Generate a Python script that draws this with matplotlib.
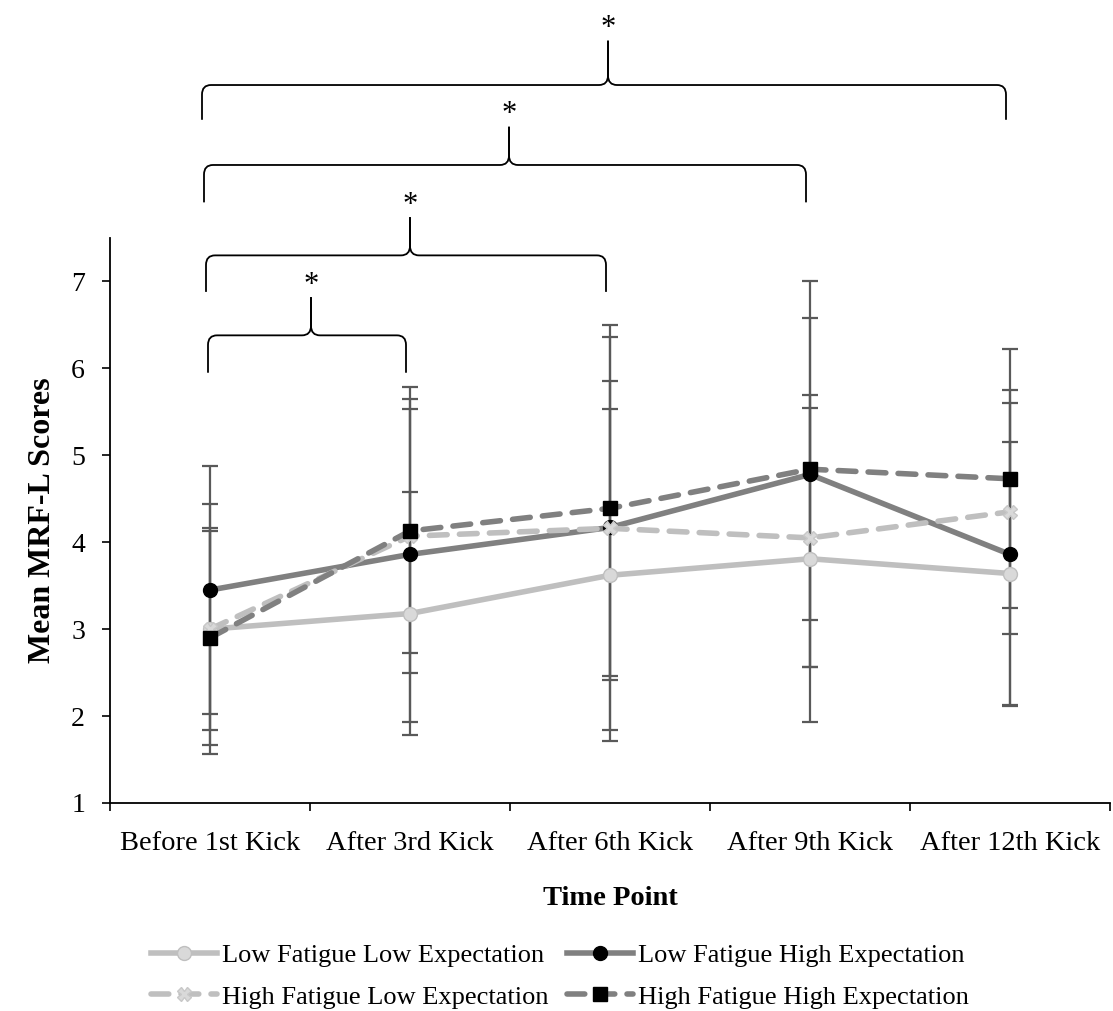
import numpy as np
import matplotlib.pyplot as plt
from matplotlib.path import Path
from matplotlib.patches import PathPatch

plt.rcParams['font.family'] = ['Liberation Serif', 'DejaVu Serif']

# donnees
points = ['Before 1st Kick', 'After 3rd Kick', 'After 6th Kick', 'After 9th Kick', 'After 12th Kick']
lfle = [3.00, 3.18, 3.62, 3.81, 3.64]
lfhe = [3.45, 3.86, 4.17, 4.78, 3.86]
hfle = [3.00, 4.07, 4.16, 4.05, 4.35]
hfhe = [2.90, 4.13, 4.39, 4.84, 4.73]
sd_lfle = [1.44, 1.40, 1.91, 1.88, 1.51]
sd_lfhe = [1.43, 1.93, 2.33, 2.22, 1.74]
sd_hfle = [1.16, 1.58, 1.70, 1.49, 1.40]
sd_hfhe = [1.23, 1.40, 1.97, 1.74, 1.49]

# comparaisons significatives (debut, fin)
paires = [(0, 1), (0, 2), (0, 3), (0, 4)]

x = np.arange(len(points))

fig = plt.figure(figsize=(11.13, 10.11), dpi=100)
ax = fig.add_axes([110/1113, 1-803/1011, 1000/1113, 565/1011])

ebc = '#595959'
series = [
    (lfle, sd_lfle, 'Low Fatigue Low Expectation', '#BFBFBF', '-', 'o', '#D9D9D9', '#BFBFBF'),
    (hfle, sd_hfle, 'High Fatigue Low Expectation', '#BFBFBF', '--', 'X', '#D9D9D9', '#C8C8C8'),
    (lfhe, sd_lfhe, 'Low Fatigue High Expectation', '#808080', '-', 'o', 'black', 'black'),
    (hfhe, sd_hfhe, 'High Fatigue High Expectation', '#808080', '--', 's', 'black', 'black'),
]
ordre = [0, 2, 1, 3]  # ordre de dessin comme excel
handles = {}
for k in ordre:
    y, sd, lab, col, ls, mk, fc, ec = series[k]
    ax.errorbar(x, y, yerr=sd, fmt='none', ecolor=ebc, elinewidth=1.6, capsize=6, capthick=1.6, zorder=2)
for k in ordre:
    y, sd, lab, col, ls, mk, fc, ec = series[k]
    l, = ax.plot(x, y, color=col, lw=4, ls=ls, marker=mk, ms=10, mfc=fc, mec=ec,
                 dash_capstyle='round', label=lab, zorder=3)
    if ls == '--':
        l.set_dashes((3.2, 2.2))
    handles[k] = l

ax.set_xlim(-0.5, 4.5)
ax.set_ylim(1, 7.5)
ax.set_yticks(range(1, 8))
ax.set_xticks(x)
ax.set_xticklabels(points)
ax.set_xticks(np.arange(-0.5, 5, 1), minor=True)
ax.tick_params(axis='x', which='major', length=0, labelsize=20.5, pad=20)
ax.tick_params(axis='x', which='minor', length=6, width=1.2)
ax.tick_params(axis='y', length=6, width=1.2, labelsize=20, pad=12)
for s in ['top', 'right']:
    ax.spines[s].set_visible(False)
for s in ['left', 'bottom']:
    ax.spines[s].set_linewidth(1.3)

ax.set_ylabel('Mean MRF-L Scores', fontsize=23, fontweight='bold', labelpad=10)
ax.set_xlabel('Time Point', fontsize=20.5, fontweight='bold', labelpad=22)

# accolades au dessus du graphique
bases = [5.95, 6.88, 7.91, 8.86]
lignes = [6.38, 7.30, 8.34, 9.26]
pics = [6.82, 7.74, 8.78, 9.77]
rx, ry = 0.045, 0.11
for (i, j), yb, yl, yp in zip(paires, bases, lignes, pics):
    x0, x1 = i - 0.01 * j, j - 0.02
    xm = (x0 + x1) / 2 + 0.02
    for a, sgn in [(x0, 1), (x1, -1)]:
        verts = [(a, yb), (a, yl - ry), (a, yl), (a + sgn*rx, yl),
                 (xm - sgn*rx, yl), (xm, yl), (xm, yl + ry), (xm, yp)]
        codes = [Path.MOVETO, Path.LINETO, Path.CURVE3, Path.CURVE3,
                 Path.LINETO, Path.CURVE3, Path.CURVE3, Path.LINETO]
        ax.add_patch(PathPatch(Path(verts, codes), fc='none', ec='black', lw=1.3, clip_on=False))
    ax.text(xm, yp - 0.03, '*', ha='center', va='bottom', fontsize=22, clip_on=False)

hs = [handles[0], handles[1], handles[2], handles[3]]
fig.legend(hs, [h.get_label() for h in hs], ncol=2, loc='center',
           bbox_to_anchor=(560/1113, 1-976/1011), frameon=False, fontsize=19,
           handlelength=2.5, handletextpad=0.2, columnspacing=0.7, labelspacing=0.7)

fig.savefig('out.png', dpi=100)
